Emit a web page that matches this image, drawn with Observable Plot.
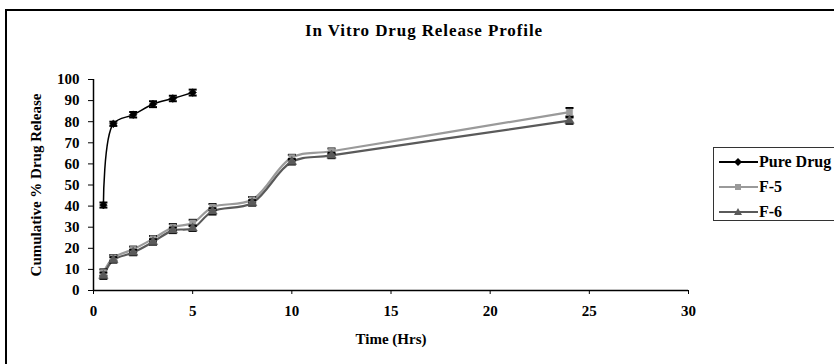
<!DOCTYPE html>
<html>
<head>
<meta charset="utf-8">
<script src="https://cdn.jsdelivr.net/npm/d3@7"></script>
<script src="https://cdn.jsdelivr.net/npm/@observablehq/plot@0.6"></script>
<style>
  html, body { margin: 0; padding: 0; background: #fff; }
  #wrap { position: relative; width: 834px; height: 364px; overflow: hidden; font-family: "Liberation Serif", "Times New Roman", serif; }
  #frame { position: absolute; left: 5px; top: 9px; width: 840px; height: 400px; border: 2px solid #000; box-sizing: border-box; pointer-events: none; }
  #title { position: absolute; top: 21px; left: 0; width: 848px; text-align: center; font-weight: bold; font-size: 17px; letter-spacing: 0.9px; }
  #legend { position: absolute; left: 713px; top: 147px; width: 130px; height: 74px; border: 1px solid #333; box-sizing: border-box; background: #fff; }
  .li { position: absolute; left: 5px; height: 20px; display: flex; align-items: center; font-weight: bold; font-size: 16px; white-space: nowrap; }
  .li svg { margin-right: 1px; }
</style>
</head>
<body>
<div id="wrap">
  <div id="frame"></div>
  <div id="title"></div>
  <div id="chart"></div>
  <div id="legend"></div>
</div>
<script>
const chartTitle = "In Vitro Drug Release Profile";
const xLabel = "Time (Hrs)";
const yLabel = "Cumulative % Drug Release";
const xTicks = [0, 5, 10, 15, 20, 25, 30];
const yTicks = [0, 10, 20, 30, 40, 50, 60, 70, 80, 90, 100];

const seriesNames = ["Pure Drug", "F-5", "F-6"];
const pureTime = [0.5, 1, 2, 3, 4, 5];
const pureDrug = [40.5, 79, 83.3, 88.3, 91, 93.8];
const pureErr = [1.2, 1, 1.3, 1.4, 1.3, 1.4];
const fTime = [0.5, 1, 2, 3, 4, 5, 6, 8, 10, 12, 24];
const f5 = [8.5, 15.5, 19.5, 24.5, 30, 32, 39.5, 43, 63, 66, 84.5];
const f5Err = [1.5, 1.3, 1.3, 1.3, 1.5, 1.5, 1.5, 1.3, 1.3, 1.3, 2];
const f6 = [7, 14.5, 18, 23, 28.5, 29.5, 37.5, 41.5, 61, 64, 80.5];
const f6Err = [1.5, 1.3, 1.3, 1.3, 1.3, 1.3, 1.5, 1.3, 1.3, 1.3, 1.5];

const colors = {"Pure Drug": "#000000", "F-5": "#9a9a9a", "F-6": "#5a5a5a"};
const symbols = {"Pure Drug": "diamond2", "F-5": "square", "F-6": "triangle"};

const rows = [
  ...pureTime.map((t, i) => ({series: "Pure Drug", t, v: pureDrug[i], e: pureErr[i]})),
  ...fTime.map((t, i) => ({series: "F-5", t, v: f5[i], e: f5Err[i]})),
  ...fTime.map((t, i) => ({series: "F-6", t, v: f6[i], e: f6Err[i]}))
];

const cap = {
  draw(context, size) {
    const r = Math.sqrt(size / Math.PI);
    context.moveTo(-r, 0);
    context.lineTo(r, 0);
  }
};

const marks = [
  Plot.ruleY([0], {stroke: "#000", strokeWidth: 1.5}),
  Plot.ruleX([0], {stroke: "#000", strokeWidth: 1.5})
];
for (const s of seriesNames) {
  const d = rows.filter(r => r.series === s);
  marks.push(
    Plot.line(d, {x: "t", y: "v", stroke: colors[s], strokeWidth: s === "Pure Drug" ? 1.5 : 2.2, curve: "catmull-rom"})
  );
}
for (const s of seriesNames) {
  const d = rows.filter(r => r.series === s);
  marks.push(
    Plot.ruleX(d, {x: "t", y1: r => r.v - r.e, y2: r => r.v + r.e, stroke: "#000", strokeWidth: 1.5}),
    Plot.dot(d, {x: "t", y: r => r.v - r.e, symbol: cap, r: 4, stroke: "#000", strokeWidth: 2}),
    Plot.dot(d, {x: "t", y: r => r.v + r.e, symbol: cap, r: 4, stroke: "#000", strokeWidth: 2}),
    Plot.dot(d, {x: "t", y: "v", symbol: symbols[s], r: 3.5, fill: colors[s], stroke: colors[s], strokeWidth: 0.5})
  );
}

const chart = Plot.plot({
  width: 834,
  height: 364,
  marginLeft: 93,
  marginRight: 146,
  marginTop: 79,
  marginBottom: 74,
  style: {fontFamily: "'Liberation Serif', 'Times New Roman', serif", fontSize: "15px", fontWeight: "bold", color: "#000", background: "transparent"},
  x: {domain: [0, 30], ticks: xTicks, tickSize: 4, tickPadding: 11, label: xLabel, labelAnchor: "center", labelOffset: 53, labelArrow: false},
  y: {domain: [0, 100], ticks: yTicks, tickSize: 5, tickPadding: 9, label: yLabel, labelAnchor: "center", labelOffset: 63, labelArrow: false},
  marks
});
document.getElementById("chart").appendChild(chart);
document.getElementById("title").textContent = chartTitle;

const legend = document.getElementById("legend");
seriesNames.forEach((s, i) => {
  const item = document.createElement("div");
  item.className = "li";
  item.style.top = (4 + i * 25) + "px";
  const sym = symbols[s];
  let shape;
  if (sym === "diamond2") shape = `<path d="M19,6 L23,10 L19,14 L15,10 Z" fill="${colors[s]}"/>`;
  else if (sym === "square") shape = `<rect x="16" y="7" width="6" height="6" fill="${colors[s]}"/>`;
  else shape = `<path d="M19,6 L23,13 L15,13 Z" fill="${colors[s]}"/>`;
  item.innerHTML = `<svg width="39" height="20"><line x1="0" y1="10" x2="39" y2="10" stroke="${colors[s]}" stroke-width="2"/>${shape}</svg><span>${s}</span>`;
  legend.appendChild(item);
});
</script>
</body>
</html>
